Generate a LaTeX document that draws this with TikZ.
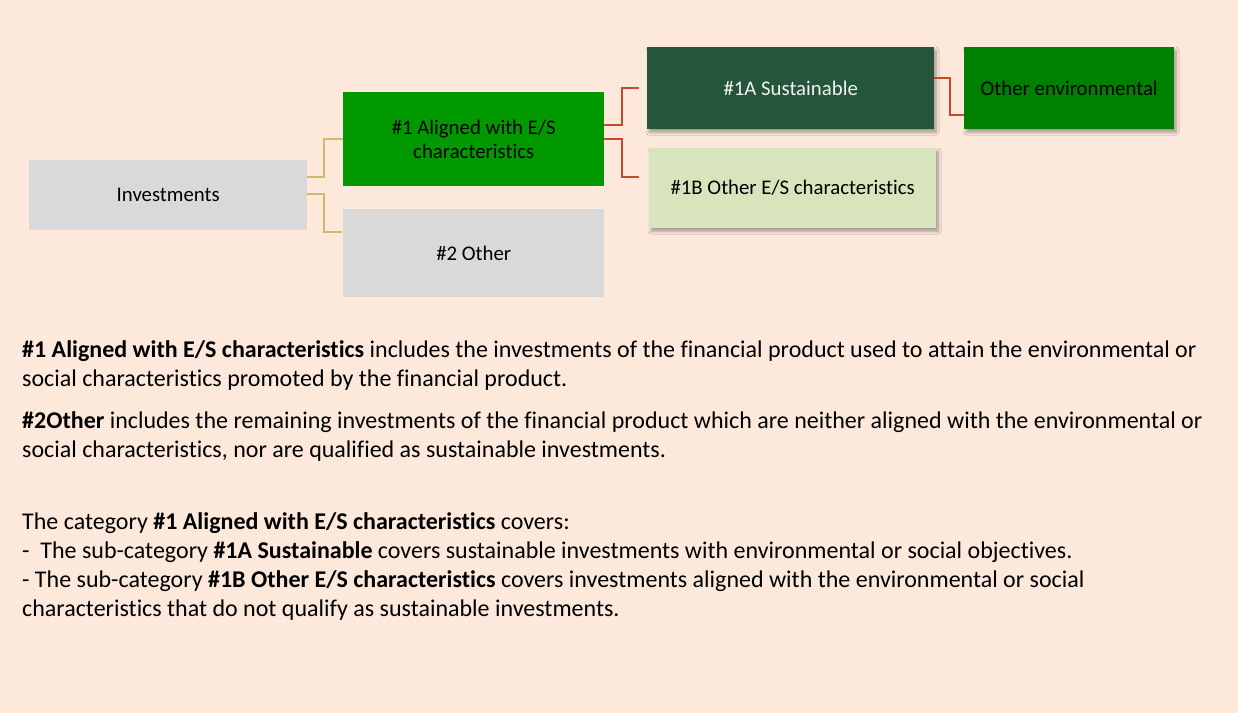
\documentclass[tikz,border=0pt]{standalone}
\usepackage{fontspec}
\setmainfont[Ligatures={NoCommon}]{Carlito}
\usetikzlibrary{shadows.blur,calc}
\definecolor{bgpeach}{HTML}{FCE9DB}
\definecolor{boxgray}{HTML}{D9D9D9}
\definecolor{brightgreen}{HTML}{009900}
\definecolor{darkgreen}{HTML}{25553B}
\definecolor{envgreen}{HTML}{008000}
\definecolor{palegreen}{HTML}{D8E4BC}
\definecolor{tanline}{HTML}{CDBB6E}
\definecolor{redline}{HTML}{C8482C}
\definecolor{whitetext}{HTML}{F2F2F2}
\tikzset{
  box/.style={rectangle, anchor=north west, inner sep=0pt, align=center,
    font=\fontsize{20.8}{24}\selectfont, text=black},
  shadowed/.style={blur shadow={shadow xshift=2pt, shadow yshift=-3pt, shadow blur steps=8, shadow blur radius=3pt, shadow opacity=35}},
  tanconn/.style={draw=tanline, line width=2pt},
  redconn/.style={draw=redline, line width=2pt},
  para/.style={anchor=base west, inner sep=0pt, font=\fontsize{24}{28}\selectfont, text=black}
}
\begin{document}
\begin{tikzpicture}[x=1pt,y=-1pt]
\fill[bgpeach] (0,0) rectangle (1238,713);
\useasboundingbox (0,0) rectangle (1238,713);

\node[box, fill=boxgray, minimum width=278pt, minimum height=70pt] (inv) at (29,160) {Investments};
\node[box, fill=brightgreen, minimum width=261pt, minimum height=94pt] (a1) at (343,92) {\#1 Aligned with E/S\\characteristics};
\node[box, fill=boxgray, minimum width=261pt, minimum height=88pt] (o2) at (343,209) {\#2 Other};
\node[box, shadowed, fill=darkgreen, text=whitetext, minimum width=287pt, minimum height=82pt] (s1a) at (647,47) {\#1A Sustainable};
\node[box, shadowed, fill=envgreen, minimum width=210pt, minimum height=82pt] (env) at (964,47) {Other environmental};
\node[box, shadowed, fill=palegreen, minimum width=287pt, minimum height=80pt] (b1) at (649,148) {\#1B Other E/S characteristics};

\draw[tanconn] ([yshift=-17pt]inv.north east) -- ++(17,0) |- (a1.west);
\draw[tanconn] ([yshift=1pt]inv.east) -- ++(17,0) |- ([xshift=-1pt,yshift=-23pt]o2.north west);
\draw[redconn] ([yshift=-33pt]a1.north east) -- ++(18,0) |- ([xshift=-8pt]s1a.west);
\draw[redconn] (a1.east) -- ++(18,0) |- ([xshift=-10pt,yshift=-29pt]b1.north west);
\draw[redconn] ([yshift=-31pt]s1a.north east) -- ++(16,0) |- ([yshift=-68pt]env.north west);

\node[para] (t1) at (22,357) {\textbf{\#1 Aligned with E/S characteristics} includes the investments of the financial product used to attain the environmental or};
\node[para] (t2) at (22,386) {social characteristics promoted by the financial product.};
\node[para] (t3) at (22,428) {\textbf{\#2Other} includes the remaining investments of the financial product which are neither aligned with the environmental or};
\node[para] (t4) at (22,457) {social characteristics, nor are qualified as sustainable investments.};
\node[para] (t5) at (22,529) {The category \textbf{\#1 Aligned with E/S characteristics} covers:};
\node[para] (t6) at (22,558) {-\ \ The sub-category \textbf{\#1A Sustainable} covers sustainable investments with environmental or social objectives.};
\node[para] (t7) at (22,587) {- The sub-category \textbf{\#1B Other E/S characteristics} covers investments aligned with the environmental or social};
\node[para] (t8) at (22,616) {characteristics that do not qualify as sustainable investments.};
\end{tikzpicture}
\end{document}
